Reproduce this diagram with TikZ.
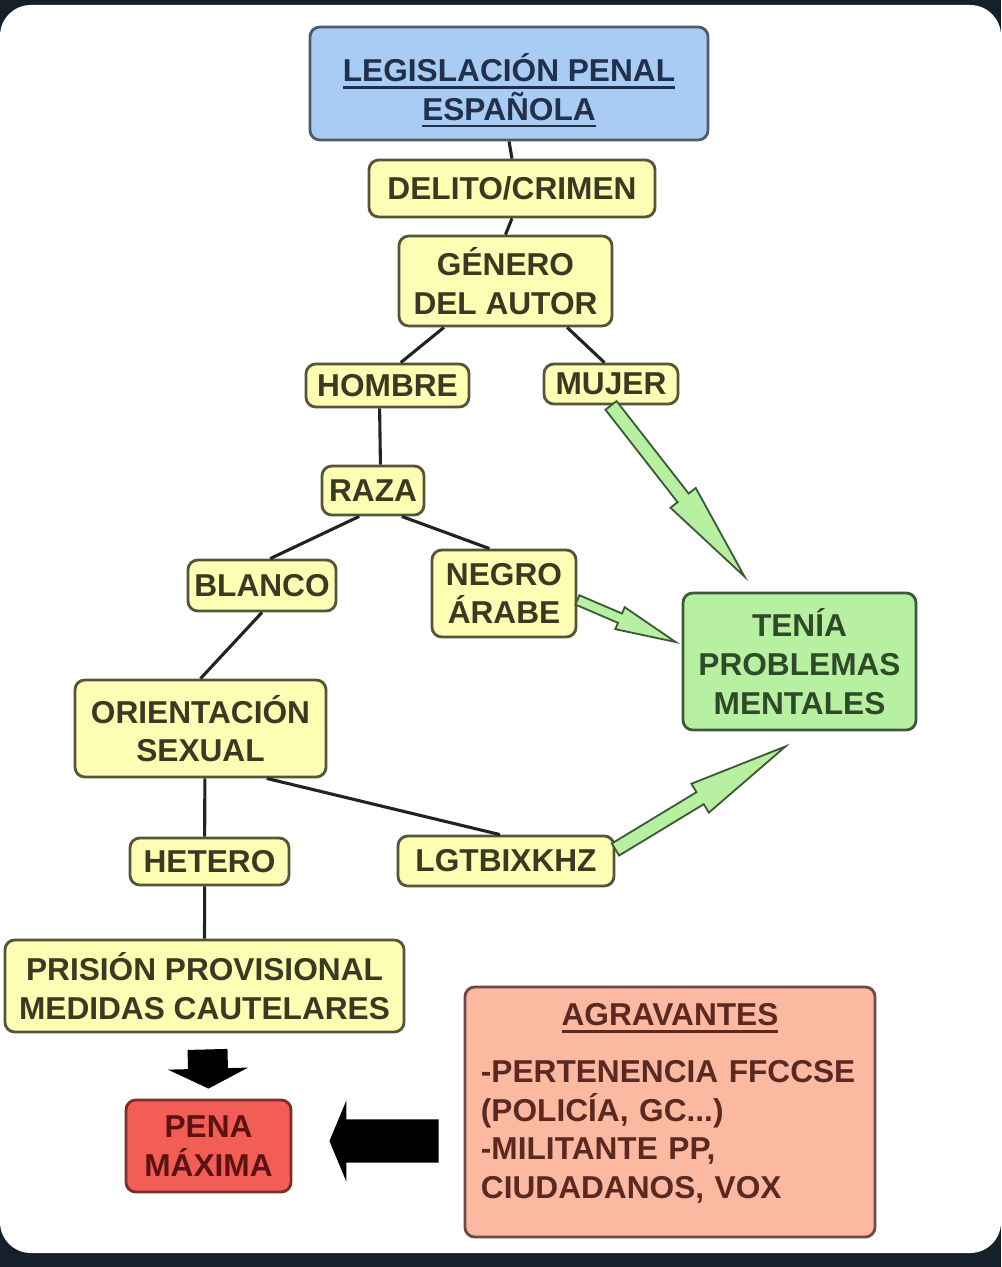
\documentclass[tikz,border=0pt]{standalone}
\usepackage{fontspec}
\setmainfont{Liberation Sans}
\usetikzlibrary{calc}
\definecolor{framebg}{HTML}{15202B}
\definecolor{legisfill}{HTML}{A9CCF5}
\definecolor{legisdraw}{HTML}{4F5B68}
\definecolor{legistext}{HTML}{22304A}
\definecolor{termfill}{HTML}{FDFDB4}
\definecolor{termdraw}{HTML}{55553A}
\definecolor{termtext}{HTML}{3A3A22}
\definecolor{mentalfill}{HTML}{B8F0A2}
\definecolor{mentaldraw}{HTML}{3D5A38}
\definecolor{mentaltext}{HTML}{2E4A2A}
\definecolor{penafill}{HTML}{F25E55}
\definecolor{penadraw}{HTML}{7A2E2E}
\definecolor{penatext}{HTML}{5C1212}
\definecolor{agravfill}{HTML}{FCB9A1}
\definecolor{agravdraw}{HTML}{6B4A44}
\definecolor{agravtext}{HTML}{5A2A22}
\definecolor{linkgray}{HTML}{222222}
\newcommand{\linedtext}[1]{\setbox0\hbox{#1}\rlap{\rule[-5pt]{\wd0}{2pt}}\box0}
\newcommand{\blockarrow}[6][]{%
  \coordinate (ah) at ($(#3)!#6!(#2)$);
  \path[#1] ($(#2)!#4!90:(#3)$) -- ($(ah)!#4!90:(#3)$) -- ($(ah)!#5!90:(#3)$) -- (#3)
    -- ($(ah)!#5!-90:(#3)$) -- ($(ah)!#4!-90:(#3)$) -- ($(#2)!#4!-90:(#3)$) -- cycle;}

\begin{document}
\begin{tikzpicture}[x=0.025cm, y=-0.025cm,
  every node/.style={font=\bfseries\fontsize{22.5}{27.5}\selectfont},
  box/.style={draw, rounded corners=7pt, line width=2pt, align=center, inner sep=2pt},
  term/.style={box, fill=termfill, draw=termdraw, text=termtext},
  link/.style={draw=linkgray, line width=2.2pt},
  greenarrow/.style={fill=mentalfill, draw=mentaldraw, line width=1.3pt},
  blackarrow/.style={fill=black}]
    % frame
    \fill[framebg] (0,0) rectangle (1001,1267);
    \fill[white, rounded corners=22pt] (0,5) rectangle (1001,1253);

    \node[box, fill=legisfill, draw=legisdraw, text=legistext, minimum width=9.95cm, minimum height=2.825cm] (legis) at (509,83.5) {\rule{0pt}{30pt}\linedtext{LEGISLACIÓN PENAL}\\\linedtext{ESPAÑOLA}};
    \node[term, minimum width=7.15cm, minimum height=1.425cm] (delito) at (512,188.5) {DELITO/CRIMEN};
    \node[term, minimum width=5.325cm, minimum height=2.25cm] (genero) at (505.5,281) {GÉNERO\\DEL AUTOR};
    \node[term, minimum width=4.075cm, minimum height=1.075cm] (hombre) at (387.5,385.5) {HOMBRE};
    \node[term, minimum width=3.35cm, minimum height=1cm] (mujer) at (611,384) {MUJER};
    \node[term, minimum width=2.55cm, minimum height=1.225cm] (raza) at (373,490.5) {RAZA};
    \node[term, minimum width=3.7cm, minimum height=1.275cm] (blanco) at (262,585.5) {BLANCO};
    \node[term, minimum width=3.6cm, minimum height=2.175cm] (negro) at (504,593.5) {NEGRO\\ÁRABE};
    \node[box, fill=mentalfill, draw=mentaldraw, text=mentaltext, minimum width=5.825cm, minimum height=3.425cm] (tenia) at (799.5,661.5) {TENÍA\\PROBLEMAS\\MENTALES};
    \node[term, minimum width=6.275cm, minimum height=2.425cm] (orient) at (200.5,728.5) {ORIENTACIÓN\\SEXUAL};
    \node[term, minimum width=3.975cm, minimum height=1.175cm] (hetero) at (209.5,861.5) {HETERO};
    \node[term, minimum width=5.4cm, minimum height=1.25cm] (lgtb) at (506,861) {LGTBIXKHZ};
    \node[term, minimum width=9.975cm, minimum height=2.3cm] (prision) at (204.5,986) {PRISIÓN PROVISIONAL\\MEDIDAS CAUTELARES};
    \node[box, fill=penafill, draw=penadraw, text=penatext, minimum width=4.125cm, minimum height=2.3cm] (pena) at (208.5,1146) {PENA\\MÁXIMA};
    \node[box, fill=agravfill, draw=agravdraw, text=agravtext, minimum width=10.25cm, minimum height=6.25cm, text width=9.45cm, align=left] (agrav) at (670,1112)
      {\centering\linedtext{AGRAVANTES}\par\vspace{13pt}\raggedright
       -PERTENENCIA FFCCSE\\(POLICÍA, GC...)\\-MILITANTE PP,\\CIUDADANOS, VOX\par\vspace{12pt}};

    \draw[link] (legis.south) -- (delito.north);
    \draw[link] (delito.south) -- (genero.north);
    \draw[link] (genero.217) -- (hombre.60);
    \draw[link] (genero.323) -- (mujer.107);
    \draw[link] (hombre.251) -- (raza.74);
    \draw[link] (raza.242) -- (blanco.73);
    \draw[link] (raza.318) -- (negro.108);
    \draw[link] (blanco.south) -- (orient.north);
    \draw[link] (orient.275) -- (hetero.101);
    \draw[link] (orient.323) -- (lgtb.103);
    \draw[link] (hetero.259) -- (prision.north);

    \coordinate (mtip) at ($(tenia.north)+(-55,-15)$);
    \coordinate (ntip) at ($(tenia.west)+(-6,-19.5)$);
    \coordinate (ltip) at ($(tenia.south)+(-14,15)$);
    \coordinate (dtop) at ($(prision.south)+(3,16)$);
    \coordinate (dtip) at ($(pena.north)+(0,-10)$);
    \coordinate (atail) at ($(agrav.west)+(-25,29)$);
    \coordinate (atip) at ($(pena.east)+(37,-5)$);

    \blockarrow[greenarrow]{mujer.south}{mtip}{5pt}{11.4pt}{71pt}
    \blockarrow[greenarrow]{negro.355}{ntip}{3.6pt}{8.5pt}{43pt}
    \blockarrow[greenarrow]{lgtb.6}{ltip}{5pt}{12pt}{71pt}
    \blockarrow[blackarrow]{dtop}{dtip}{14.2pt}{28.5pt}{14.2pt}
    \blockarrow[blackarrow]{atail}{atip}{15.3pt}{28.8pt}{12pt}
\end{tikzpicture}
\end{document}
